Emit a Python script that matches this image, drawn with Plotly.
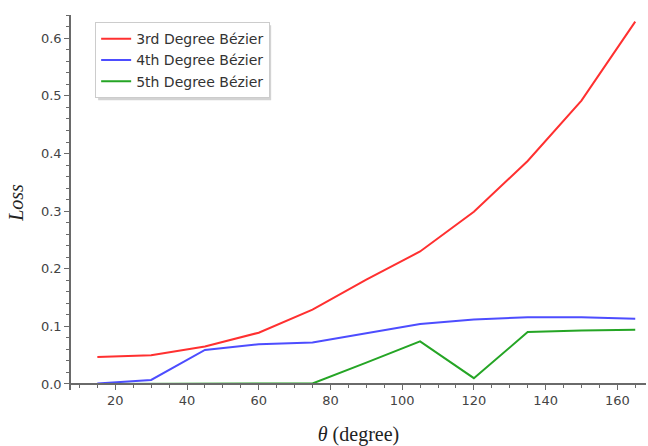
import plotly.graph_objects as go

theta = [15, 30, 45, 60, 75, 90, 105, 120, 135, 150, 165]
loss_deg3 = [0.047, 0.050, 0.065, 0.089, 0.129, 0.181, 0.230, 0.299, 0.387, 0.492, 0.629]
loss_deg4 = [0.001, 0.007, 0.059, 0.069, 0.072, 0.088, 0.104, 0.112, 0.116, 0.116, 0.113]
loss_deg5 = [0.000, 0.000, 0.000, 0.0005, 0.001, 0.037, 0.074, 0.010, 0.090, 0.093, 0.094]
series_names = ["3rd Degree Bézier", "4th Degree Bézier", "5th Degree Bézier"]
series_colors = ["#ff3030", "#4d4dff", "#25a525"]

y_min, y_max = -0.0105, 0.6405
x_min, x_max = 7.65, 168.0

fig = go.Figure()
for name, vals, col in zip(series_names, [loss_deg3, loss_deg4, loss_deg5], series_colors):
    fig.add_trace(go.Scatter(x=theta, y=vals, mode="lines", name=name,
                             line=dict(color=col, width=2)))

axis_col = "#6a6a6a"
tick_font = dict(family="DejaVu Sans", size=13, color="#444444")
legend_x, legend_y = 0.042, 0.981

fig.update_layout(
    width=648, height=446,
    margin=dict(l=71, r=2, t=15, b=56, autoexpand=False),
    plot_bgcolor="white", paper_bgcolor="white",
    showlegend=True,
    legend=dict(x=legend_x, y=legend_y, xanchor="left", yanchor="top",
                bgcolor="white", bordercolor="#cccccc", borderwidth=1,
                font=dict(family="DejaVu Sans", size=14, color="#333333"),
                itemwidth=30, tracegroupgap=0),
    xaxis=dict(range=[x_min, x_max], showgrid=False, zeroline=False, automargin=False,
               showline=True, linecolor=axis_col, linewidth=1.5,
               anchor="free", position=(0 - y_min) / (y_max - y_min),
               tickmode="linear", tick0=20, dtick=20,
               ticks="outside", ticklen=5, tickcolor=axis_col, tickwidth=1,
               minor=dict(ticks="outside", ticklen=3, dtick=5, tick0=0,
                          tickcolor=axis_col, showgrid=False),
               tickfont=tick_font,
               title=dict(text="<i>θ</i> (degree)",
                          font=dict(family="Liberation Serif", size=20, color="#222222"),
                          standoff=20)),
    yaxis=dict(range=[y_min, y_max], showgrid=False, zeroline=False, automargin=False,
               showline=True, linecolor=axis_col, linewidth=1.5,
               tickmode="linear", tick0=0, dtick=0.1, tickformat=".1f",
               ticks="outside", ticklen=5, tickcolor=axis_col, tickwidth=1,
               minor=dict(ticks="outside", ticklen=3, dtick=0.02, tick0=0,
                          tickcolor=axis_col, showgrid=False),
               tickfont=tick_font,
               title=dict(text="<i>Loss</i>",
                          font=dict(family="Liberation Serif", size=20, color="#222222"),
                          standoff=12)),
)

# soft drop shadow peeking out under the legend box (pixel-sized, anchored at legend corner)
fig.add_shape(type="rect", xref="paper", yref="paper",
              xsizemode="pixel", ysizemode="pixel",
              xanchor=legend_x, yanchor=legend_y,
              x0=3, x1=176, y0=-3, y1=-78,
              fillcolor="#b5b5b5", line=dict(width=0), layer="above", opacity=0.6)

fig.write_html("out.html")
